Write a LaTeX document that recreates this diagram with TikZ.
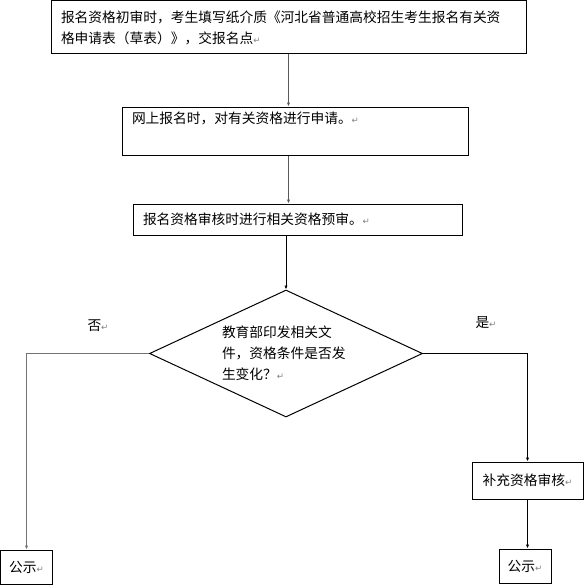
\documentclass[tikz,border=0pt]{standalone}
\usepackage{fontspec}
\setmainfont{Noto Sans CJK SC}
\newfontfamily\markfont{DejaVu Sans}
\usetikzlibrary{shapes.geometric,arrows.meta}
\newcommand{\retmark}{{\markfont\color{gray}\fontsize{6.5}{6.5}\selectfont ↵}}
\tikzset{every picture/.style={line width=0.75pt}}
\tikzset{
stepbox/.style={draw, rectangle, inner xsep=7.5pt, inner ysep=0pt, align=left},
endbox/.style={draw, rectangle, inner sep=0pt, align=center},
checkbox/.style={draw, diamond, aspect=2.15, inner sep=0pt, align=left, text width=96pt},
flowarrow/.style={-{Latex[length=3pt,width=2.5pt]}, line width=0.6pt},
every node/.style={font=\fontsize{10.3}{15.75}\selectfont}}

\begin{document}
\begin{tikzpicture}[x=0.75pt,y=0.75pt,yscale=-1,xscale=1]
\useasboundingbox (0,0) rectangle (583,585);

%Shape: Rectangle [id:first check]
\node [stepbox, text width=341.25pt, minimum height=39.75pt] (firstcheck) at (288.5,27.5)
  {报名资格初审时，考生填写纸介质《河北省普通高校招生考生报名有关资\\格申请表（草表）》，交报名点\retmark};
%Shape: Rectangle [id:online apply]
\node [stepbox, text width=259.5pt-15pt, minimum height=36pt] (onlineapply) at (295,131)
  {网上报名时，对有关资格进行申请。\retmark\\ \strut};
%Shape: Rectangle [id:pre review]
\node [stepbox, text width=246.75pt-15pt, minimum height=23.25pt] (prereview) at (297.5,219.5)
  {报名资格审核时进行相关资格预审。\retmark};
%Shape: Diamond [id:change check]
\node [checkbox, minimum width=204.75pt, minimum height=95.25pt] (change) at (286,353.5)
  {教育部印发相关文\\件，资格条件是否发\\生变化？\retmark};
%Shape: Rectangle [id:extra review]
\node [endbox, minimum width=83.25pt, minimum height=27.75pt] (extrareview) at (527.5,480.5) {补充资格审核\retmark};
%Shape: Rectangle [id:notice no]
\node [endbox, minimum width=39pt, minimum height=25.5pt] (noticeno) at (26.5,567) {公示\retmark};
%Shape: Rectangle [id:notice yes]
\node [endbox, minimum width=39pt, minimum height=25.5pt] (noticeyes) at (525,566) {公示\retmark};

% Text Node
\node (nolabel) at (98,326) {否\retmark};
% Text Node
\node (yeslabel) at (486,323) {是\retmark};

% Connectors
\draw [flowarrow, draw=black!65] (firstcheck.south) -- (firstcheck.south |- onlineapply.north);
\draw [flowarrow, draw=black!65] (onlineapply.south -| firstcheck.south) -- (firstcheck.south |- prereview.north);
\draw [flowarrow] (prereview.south -| change.north) -- (change.north);
\draw [flowarrow, draw=black!55, line width=1.1pt] (change.west) -| (noticeno.north);
\draw [flowarrow] (change.east) -| (extrareview.north);
\draw [flowarrow] (extrareview.south) -- (extrareview.south |- noticeyes.north);

\end{tikzpicture}
\end{document}
